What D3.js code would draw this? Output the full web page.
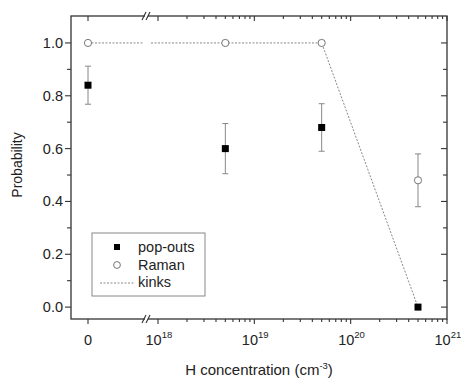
<!DOCTYPE html>
<html>
<head>
<meta charset="utf-8">
<script src="https://cdn.jsdelivr.net/npm/d3@7"></script>
<style>
  body { margin: 0; background: #fff; overflow: hidden; }
  text { font-family: Arial, "Liberation Sans", sans-serif; fill: #222; }
</style>
</head>
<body>
<script>
// concentrations (cm^-3), 0 is drawn on its own segment before the axis break
const conc = [0, 5e18, 5e19, 5e20];
const popouts = [0.84, 0.60, 0.68, 0.0];
const popoutErr = [0.072, 0.095, 0.09, null];
const raman = [1.0, 1.0, 1.0, 0.48];
const ramanErr = [null, null, null, 0.10];
const kinks = [1.0, 1.0, 1.0, 0.0];
const yTicks = [0, 0.2, 0.4, 0.6, 0.8, 1.0];
const xMajor = [1e18, 1e19, 1e20, 1e21];
const xZeroLabel = ["0"];

const W = 461, H = 378;
const plot = {left: 71, right: 447, top: 16, bottom: 319};
const breakL = 143, breakR = 150;
const gray = "#888", axisCol = "#333";

const svg = d3.select("body").append("svg")
    .attr("width", W).attr("height", H);

const y = d3.scaleLinear().domain([-0.045, 1.102]).range([plot.bottom, plot.top]);
const xLog = d3.scaleLog().domain([1e18, 1e21]).range([158, plot.right]);
const xZero = 88;
function xPos(v) { return v === 0 ? xZero : xLog(v); }

// minor tick values for log segment
const xMinor = [];
for (let e = 18; e < 21; e++)
    for (let m = 2; m < 10; m++) xMinor.push(m * Math.pow(10, e));
const yMinor = d3.range(0.1, 1.05, 0.2);

// frame
svg.append("rect")
    .attr("x", plot.left).attr("y", plot.top)
    .attr("width", plot.right - plot.left).attr("height", plot.bottom - plot.top)
    .attr("fill", "none").attr("stroke", axisCol).attr("stroke-width", 1.3);

function tick(x1, y1, x2, y2) {
    svg.append("line").attr("x1", x1).attr("y1", y1).attr("x2", x2).attr("y2", y2)
        .attr("stroke", axisCol).attr("stroke-width", 1.1);
}

// left / right ticks
yTicks.forEach((t) => { tick(plot.left - 6, y(t), plot.left, y(t)); tick(plot.right - 6, y(t), plot.right, y(t)); });
yMinor.forEach((t) => { tick(plot.left - 4, y(t), plot.left, y(t)); tick(plot.right - 4, y(t), plot.right, y(t)); });

// bottom / top ticks
[xZero].concat(xMajor.map(xLog)).forEach((px) => {
    tick(px, plot.bottom, px, plot.bottom + 5);
    tick(px, plot.top, px, plot.top + 5);
});
xMinor.map(xLog).forEach((px) => {
    tick(px, plot.bottom, px, plot.bottom + 3);
    tick(px, plot.top, px, plot.top + 3);
});

// axis breaks
[plot.top, plot.bottom].forEach((yy) => {
    svg.append("rect").attr("x", breakL + 2).attr("y", yy - 2).attr("width", 3).attr("height", 4).attr("fill", "#fff");
    [breakL, breakL + 4].forEach((bx) => {
        svg.append("line").attr("x1", bx - 1).attr("y1", yy + 4).attr("x2", bx + 3).attr("y2", yy - 4)
            .attr("stroke", axisCol).attr("stroke-width", 1.1);
    });
});

// y tick labels
svg.append("g").selectAll("text").data(yTicks).join("text")
    .attr("x", plot.left - 8).attr("y", (d) => y(d) + 5)
    .attr("text-anchor", "end").style("font-size", "14.5px")
    .text((d) => d.toFixed(1));

// x tick labels
svg.append("text").attr("x", xZero).attr("y", 345).attr("text-anchor", "middle")
    .style("font-size", "14.5px").text(xZeroLabel[0]);
xMajor.forEach((v) => {
    const t = svg.append("text").attr("x", xLog(v) - 12.5).attr("y", 345).style("font-size", "14.5px");
    t.append("tspan").text("10");
    t.append("tspan").attr("dy", -7).style("font-size", "9.5px").text(Math.round(Math.log10(v)));
});

// axis titles
svg.append("text").attr("x", 259).attr("y", 375).attr("text-anchor", "middle")
    .style("font-size", "15px")
    .call((t) => {
        t.append("tspan").text("H concentration (cm");
        t.append("tspan").attr("dy", -6).style("font-size", "9.5px").text("-3");
        t.append("tspan").attr("dy", 6).text(")");
    });
svg.append("text").attr("transform", "translate(22,165) rotate(-90)")
    .attr("text-anchor", "middle").style("font-size", "14px").text("Probability");

// kinks dotted line, with a gap at the axis break
const clip = svg.append("clipPath").attr("id", "brk");
clip.append("rect").attr("x", plot.left).attr("y", plot.top).attr("width", breakL - plot.left).attr("height", plot.bottom - plot.top);
clip.append("rect").attr("x", breakR).attr("y", plot.top).attr("width", plot.right - breakR).attr("height", plot.bottom - plot.top);

const line = d3.line().x((d, i) => xPos(conc[i])).y((d) => y(d));
svg.append("path").datum(kinks).attr("d", line)
    .attr("clip-path", "url(#brk)")
    .attr("fill", "none").attr("stroke", gray).attr("stroke-width", 1)
    .attr("stroke-dasharray", "2,1.5");

// error bars
function errBars(vals, errs) {
    vals.forEach((v, i) => {
        if (errs[i] == null) return;
        const px = xPos(conc[i]);
        const g = svg.append("g").attr("stroke", gray).attr("stroke-width", 1);
        g.append("line").attr("x1", px).attr("x2", px).attr("y1", y(v - errs[i])).attr("y2", y(v + errs[i]));
        [v - errs[i], v + errs[i]].forEach((e) => {
            g.append("line").attr("x1", px - 3).attr("x2", px + 3).attr("y1", y(e)).attr("y2", y(e));
        });
    });
}
errBars(popouts, popoutErr);
errBars(raman, ramanErr);

// markers
svg.append("g").selectAll("rect").data(popouts).join("rect")
    .attr("x", (d, i) => xPos(conc[i]) - 3.5).attr("y", (d) => y(d) - 3.5)
    .attr("width", 7).attr("height", 7).attr("fill", "#000");
svg.append("g").selectAll("circle").data(raman).join("circle")
    .attr("cx", (d, i) => xPos(conc[i])).attr("cy", (d) => y(d)).attr("r", 3.6)
    .attr("fill", "#fff").attr("stroke", "#777").attr("stroke-width", 1);

// legend
const lg = svg.append("g");
lg.append("rect").attr("x", 92).attr("y", 233).attr("width", 113).attr("height", 63)
    .attr("fill", "#fff").attr("stroke", gray).attr("stroke-width", 1);
lg.append("rect").attr("x", 114).attr("y", 244).attr("width", 6).attr("height", 6).attr("fill", "#000");
lg.append("circle").attr("cx", 117).attr("cy", 265).attr("r", 3.4)
    .attr("fill", "#fff").attr("stroke", "#777");
lg.append("line").attr("x1", 100).attr("x2", 134).attr("y1", 283).attr("y2", 283)
    .attr("stroke", gray).attr("stroke-dasharray", "2,1.5");
["pop-outs", "Raman", "kinks"].forEach((s, i) => {
    lg.append("text").attr("x", 138).attr("y", 252 + i * 17.5).style("font-size", "14.5px").text(s);
});
</script>
</body>
</html>
